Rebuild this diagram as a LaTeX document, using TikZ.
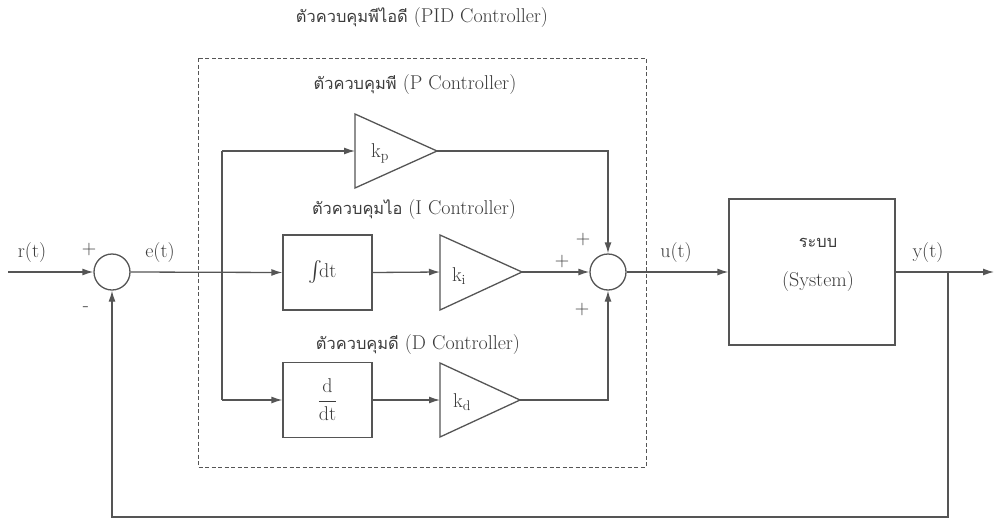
\documentclass[tikz,border=0pt]{standalone}
\usepackage{fontspec}
\usepackage{amsmath}
\newfontfamily\thaifont[Script=Thai,Scale=0.82]{Loma}
\usetikzlibrary{arrows.meta}
\definecolor{ln}{HTML}{555555}
\definecolor{tx}{HTML}{3C3C3C}
\begin{document}
\begin{tikzpicture}[x=1pt,y=-1pt,
  every node/.style={text=tx, font=\fontsize{20}{24}\selectfont},
  conn/.style={draw=ln, line width=1.3pt},
  arr/.style={conn, -{Latex[length=11pt,width=7pt]}},
  blockbox/.style={draw=ln, line width=1.3pt, rectangle, inner sep=0pt, minimum width=89pt, minimum height=75pt},
  sumnode/.style={draw=ln, line width=1.3pt, circle, minimum size=36pt, inner sep=0pt},
  gain/.style={draw=ln, line width=1.3pt, line join=miter},
  dashbox/.style={draw=ln, line width=1pt, dash pattern=on 4pt off 2.5pt},
]
\useasboundingbox (0,0) rectangle (995,522);
\fill[white] (0,0) rectangle (995,522);

% titles
\node (title) at (422,18) {{\thaifont ตัวควบคุมพีไอดี} (PID Controller)};
\draw[dashbox] (198,58) rectangle (646,467);
\node (plabel) at (415,85) {{\thaifont ตัวควบคุมพี} (P Controller)};
\node (ilabel) at (414,210) {{\thaifont ตัวควบคุมไอ} (I Controller)};
\node (dlabel) at (418,345) {{\thaifont ตัวควบคุมดี} (D Controller)};

% summing junctions
\node[sumnode] (s1) at (112,272) {};
\node[sumnode] (s2) at (608,272) {};
\node (s1plus) at (89,250) {+};
\node (s1minus) at (86,309) {-};
\node (s2plusT) at (583,240) {+};
\node (s2plusL) at (562,262) {+};
\node (s2plusB) at (582,310) {+};

% blocks
\node[blockbox] (int) at (327.5,272.5) {\hspace*{-10pt}$\int$\!dt};
\node[blockbox] (der) at (327.5,400) {$\dfrac{\mathrm{d}}{\mathrm{dt}}$};
\node[draw=ln, line width=1.3pt, rectangle, minimum width=166pt, minimum height=146pt] (sys) at (812,272) {};
\node (sysA) at (818,243) {\thaifont ระบบ};
\node (sysB) at (818,282) {(System)};

% gains
\draw[gain] (355,114) -- (355,188) -- (437,151) -- cycle;
\coordinate (kpin) at (355,151);
\coordinate (kpout) at (437,151);
\node (kp) at (380,153) {k\textsubscript{p}};
\draw[gain] (440,235) -- (440,310) -- (522,272) -- cycle;
\coordinate (kiin) at (440,272);
\coordinate (kiout) at (522,272);
\node (ki) at (459,276) {k\textsubscript{i}};
\draw[gain] (440,363) -- (440,437) -- (520,400) -- cycle;
\coordinate (kdin) at (440,400);
\coordinate (kdout) at (520,400);
\node (kd) at (462,402) {k\textsubscript{d}};

% signal labels
\node (rt) at (32,253) {r(t)};
\node (et) at (160,253) {e(t)};
\node (ut) at (676,253) {u(t)};
\node (yt) at (928,253) {y(t)};

% connectors
\coordinate (rin) at (8,272);
\coordinate (brTop) at (222,151);
\coordinate (brBot) at (222,400);
\coordinate (yout) at (994,272);
\coordinate (fbA) at (948,272);
\coordinate (fbB) at (948,517);
\coordinate (fbC) at (112,517);

\draw[arr] (rin) -- (s1.west);
\draw[arr] (s1.east) -- (int.west);
\draw[conn] (brTop) -- (brBot);
\draw[arr] (brTop) -- (kpin);
\draw[arr] (brBot) -- (der.west);
\draw[arr] (int.east) -- (kiin);
\draw[arr] (der.east) -- (kdin);
\draw[arr] (kiout) -- (s2.west);
\draw[arr] (kpout) -| (s2.north);
\draw[arr] (kdout) -| (s2.south);
\draw[arr] (s2.east) -- (sys.west);
\draw[arr] (sys.east) -- (yout);
\draw[arr] (fbA) -- (fbB) -- (fbC) -- (s1.south);
\end{tikzpicture}
\end{document}
